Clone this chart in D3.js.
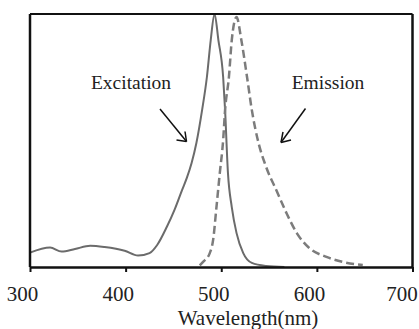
<!DOCTYPE html>
<html>
<head>
<meta charset="utf-8">
<script src="https://cdn.jsdelivr.net/npm/d3@7"></script>
<style>
  body { margin: 0; background: #fff; }
  svg { display: block; }
  text { font-family: "Liberation Serif", "Times New Roman", serif; fill: #222; }
</style>
</head>
<body>
<svg id="chart" width="419" height="329"></svg>
<script>
// wavelength (nm) and relative intensity
const excitationWl = [300, 321, 333, 347, 363, 378, 399, 413, 425, 433, 443, 451, 459, 464, 469, 474, 480, 485, 489, 493,
  497, 502, 504, 507, 511, 516, 523, 532, 547, 566];
const excitationVal = [0.057, 0.077, 0.061, 0.071, 0.084, 0.079, 0.064, 0.045, 0.055, 0.087, 0.158, 0.225, 0.304, 0.352, 0.411, 0.49, 0.621, 0.751, 0.897, 1.0,
  0.897, 0.75, 0.621, 0.372, 0.237, 0.134, 0.055, 0.016, 0.004, 0.0];

const emissionWl = [477.5, 481, 488, 491.5, 495, 498.5, 502, 504, 508, 511, 516, 521, 527, 532, 539, 546.5, 558, 568, 579, 592, 610, 627, 648];
const emissionVal = [0.006, 0.02, 0.055, 0.107, 0.237, 0.372, 0.502, 0.62, 0.75, 0.897, 0.988, 0.897, 0.75, 0.62, 0.49, 0.40, 0.30, 0.215, 0.134, 0.075, 0.04, 0.02, 0.008];

const xTicks = [300, 400, 500, 600, 700];
const xTitle = 'Wavelength(nm)';

const margin = { top: 14, right: 6.5, bottom: 62, left: 30 };
const width = 419, height = 329;
const serif = '"Liberation Serif", "Times New Roman", serif';

const svg = d3.select('#chart');
const x = d3.scaleLinear().domain([300, 700]).range([margin.left, width - margin.right]);
const y = d3.scaleLinear().domain([0, 1]).range([height - margin.bottom, margin.top]);

const toPoints = (wl, val) => wl.map((w, i) => ({ w: w, v: val[i] }));

const line = d3.line()
  .x(d => x(d.w))
  .y(d => y(d.v))
  .curve(d3.curveMonotoneX);

// curves
svg.append('path')
  .datum(toPoints(excitationWl, excitationVal))
  .attr('d', line)
  .attr('fill', 'none')
  .attr('stroke', '#6b6b6b')
  .attr('stroke-width', 2);

svg.append('path')
  .datum(toPoints(emissionWl, emissionVal))
  .attr('d', line)
  .attr('fill', 'none')
  .attr('stroke', '#7c7c7c')
  .attr('stroke-width', 2.5)
  .attr('stroke-dasharray', '8,4');

// frame: top, left, right
const x0 = x.range()[0], x1 = x.range()[1], y0 = y.range()[0], y1 = y.range()[1];
svg.append('line').attr('x1', x0).attr('x2', x1).attr('y1', y1).attr('y2', y1)
  .attr('stroke', '#111').attr('stroke-width', 2);
svg.append('line').attr('x1', x0).attr('x2', x0).attr('y1', y1).attr('y2', y0)
  .attr('stroke', '#111').attr('stroke-width', 2.5);
svg.append('line').attr('x1', x1).attr('x2', x1).attr('y1', y1).attr('y2', y0)
  .attr('stroke', '#111').attr('stroke-width', 2.5);

// bottom axis
const xAxis = svg.append('g')
  .attr('transform', `translate(0,${y0})`)
  .call(d3.axisBottom(x).tickValues(xTicks).tickSize(5).tickSizeOuter(0))
  .attr('font-family', serif)
  .attr('font-size', 21);

xAxis.select('.domain').attr('stroke', '#111').attr('stroke-width', 2.5);
xAxis.selectAll('.tick line').attr('stroke', '#111').attr('stroke-width', 2);
xAxis.selectAll('.tick text')
  .attr('y', 33.5)
  .attr('dy', 0)
  .attr('dx', d => d === 700 ? -11 : -8)
  .attr('fill', '#222');

svg.append('text')
  .attr('x', 248)
  .attr('y', 324.5)
  .attr('text-anchor', 'middle')
  .style('font-size', '21px')
  .text(xTitle);

// annotations
const annotate = (label, tx, ty, from, to, heads) => {
  svg.append('text')
    .attr('x', tx)
    .attr('y', ty)
    .attr('text-anchor', 'middle')
    .style('font-size', '19.5px')
    .text(label);
  svg.append('line')
    .attr('x1', from[0]).attr('y1', from[1])
    .attr('x2', to[0]).attr('y2', to[1])
    .attr('stroke', '#111').attr('stroke-width', 1.5);
  heads.forEach(h => {
    svg.append('line')
      .attr('x1', to[0]).attr('y1', to[1])
      .attr('x2', h[0]).attr('y2', h[1])
      .attr('stroke', '#111').attr('stroke-width', 1.5);
  });
};

annotate('Excitation', 131, 89, [160, 109], [186.5, 141.5], [[176.5, 140], [185, 131.5]]);
annotate('Emission', 328, 89, [305.5, 108.5], [281, 142.5], [[291, 140], [283, 132]]);
</script>
</body>
</html>
